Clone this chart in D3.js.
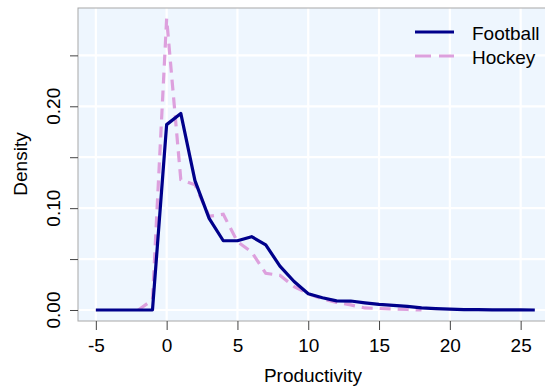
<!DOCTYPE html>
<html>
<head>
<meta charset="utf-8">
<script src="https://cdn.jsdelivr.net/npm/d3@7"></script>
<style>
  body { margin: 0; background: #fff; }
  svg text { font-family: "Liberation Sans", Arial, sans-serif; fill: #000; }
</style>
</head>
<body>
<svg id="chart" width="545" height="389"></svg>
<script>
// values
var footballX = d3.range(-5, 27);
var football = [0, 0, 0, 0, 0,
  0.182, 0.193, 0.127, 0.090, 0.068, 0.068, 0.072, 0.064, 0.043, 0.028,
  0.016, 0.012, 0.009, 0.0088, 0.007, 0.0055, 0.0045, 0.0035, 0.002, 0.0014,
  0.0008, 0.0004, 0.0003, 0.0002, 0.0001, 0.0001, 0];
var hockeyX = d3.range(-2, 19);
var hockey = [0, 0.010, 0.286, 0.128, 0.123, 0.092, 0.094, 0.067, 0.057, 0.036,
  0.034, 0.023, 0.016, 0.011, 0.0075, 0.005, 0.002, 0.0015, 0.001, 0.0005, 0];
var xTicks = [-5, 0, 5, 10, 15, 20, 25];
var yGrid = [0, 0.05, 0.10, 0.15, 0.20, 0.25];
var yLabels = [0, 0.10, 0.20];
var seriesNames = ["Football", "Hockey"];

var svg = d3.select("#chart");
var plotL = 78, plotT = 8, plotR = 546, plotB = 321;

var x = d3.scaleLinear().domain([-6.26, 26.72]).range([plotL, 545]);
var y = d3.scaleLinear().domain([-0.0108, 0.2965]).range([plotB, plotT]);

svg.append("rect")
  .attr("x", plotL).attr("y", plotT)
  .attr("width", plotR - plotL).attr("height", plotB - plotT)
  .style("fill", "#eef6fe");

// grid
svg.append("g").selectAll("line").data(yGrid).enter().append("line")
  .attr("x1", plotL).attr("x2", plotR)
  .attr("y1", d => y(d)).attr("y2", d => y(d))
  .style("stroke", "#fff").style("stroke-width", 2.2);
svg.append("g").selectAll("line").data(xTicks).enter().append("line")
  .attr("y1", plotT).attr("y2", plotB)
  .attr("x1", d => x(d)).attr("x2", d => x(d))
  .style("stroke", "#fff").style("stroke-width", 2.2);

svg.append("rect")
  .attr("x", plotL).attr("y", plotT)
  .attr("width", plotR - plotL).attr("height", plotB - plotT)
  .style("fill", "none").style("stroke", "#a8a8a8").style("stroke-width", 1);

// axes
var xAxis = svg.append("g").attr("transform", "translate(0," + plotB + ")")
  .call(d3.axisBottom(x).tickValues(xTicks).tickSize(9).tickFormat(d => String(d)));
xAxis.select(".domain").remove();
xAxis.selectAll("line").style("stroke", "#444");
xAxis.selectAll("text").style("font-size", "19px").attr("y", 31).attr("dy", 0);

var yAxis = svg.append("g").attr("transform", "translate(" + plotL + ",0)")
  .call(d3.axisLeft(y).tickValues(yGrid).tickSize(8).tickFormat(""));
yAxis.select(".domain").remove();
yAxis.selectAll("line").style("stroke", "#444");

svg.append("g").selectAll("text").data(yLabels).enter().append("text")
  .attr("transform", d => "translate(60," + y(d) + ") rotate(-90)")
  .attr("text-anchor", "middle")
  .style("font-size", "19px")
  .text(d3.format(".2f"));

svg.append("text")
  .attr("x", 313).attr("y", 382)
  .attr("text-anchor", "middle")
  .style("font-size", "19px")
  .text("Productivity");

svg.append("text")
  .attr("transform", "translate(27,164) rotate(-90)")
  .attr("text-anchor", "middle")
  .style("font-size", "19px")
  .text("Density");

// lines
svg.append("clipPath").attr("id", "clip").append("rect")
  .attr("x", plotL).attr("y", plotT).attr("width", plotR - plotL).attr("height", plotB - plotT);

var line = d3.line().x(d => x(d[0])).y(d => y(d[1]));
var plot = svg.append("g").attr("clip-path", "url(#clip)");

plot.append("path")
  .datum(d3.zip(hockeyX, hockey))
  .attr("d", line)
  .style("fill", "none").style("stroke", "#dda0dd")
  .style("stroke-width", 3.2).style("stroke-dasharray", "11,7");

plot.append("path")
  .datum(d3.zip(footballX, football))
  .attr("d", line)
  .style("fill", "none").style("stroke", "#00008b")
  .style("stroke-width", 3.2).style("stroke-linejoin", "round");

// legend
var legend = svg.append("g");
var legendY = [32, 56];
legend.selectAll("line").data(seriesNames).enter().append("line")
  .attr("x1", 415).attr("x2", 454)
  .attr("y1", (d, i) => legendY[i]).attr("y2", (d, i) => legendY[i])
  .style("stroke", (d, i) => i === 0 ? "#00008b" : "#dda0dd")
  .style("stroke-width", 3.2)
  .style("stroke-dasharray", (d, i) => i === 0 ? null : "16,8");
legend.selectAll("text").data(seriesNames).enter().append("text")
  .attr("x", 472).attr("y", (d, i) => legendY[i] + 8)
  .style("font-size", "19px")
  .text(d => d);
</script>
</body>
</html>
